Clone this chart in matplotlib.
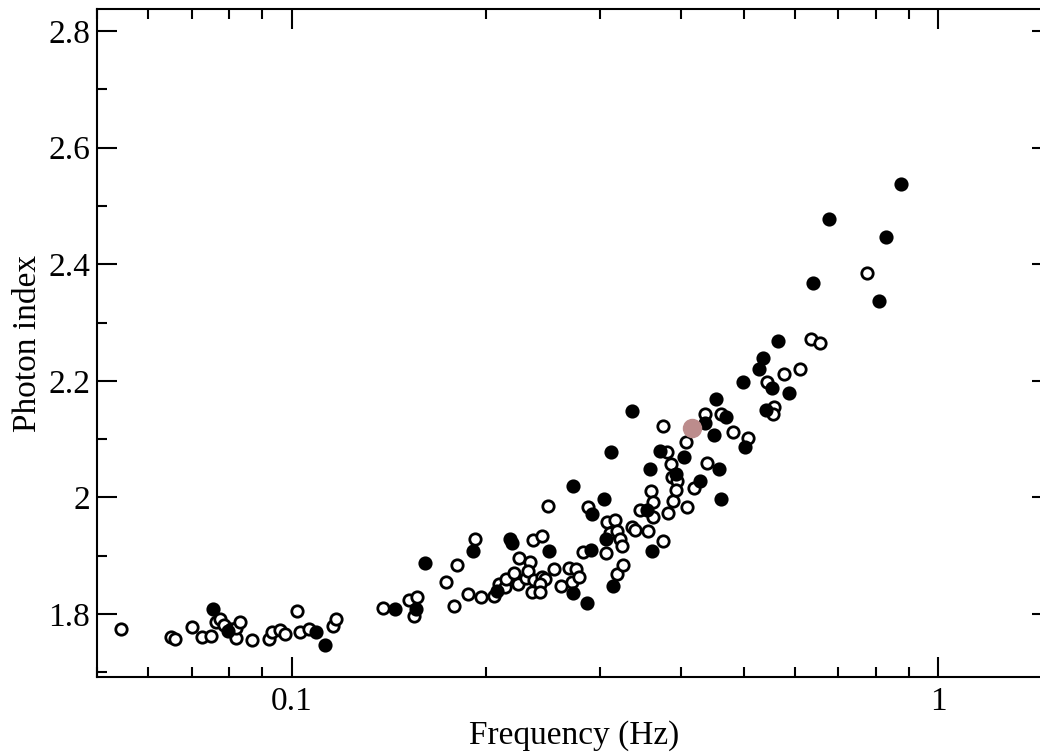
import matplotlib
matplotlib.use("Agg")
import matplotlib.pyplot as plt
from matplotlib.ticker import FixedLocator, MultipleLocator, FuncFormatter, NullFormatter

plt.rcParams["font.family"] = ["Liberation Serif", "DejaVu Serif"]

# open symbols
open_freq = [0.0545, 0.0651, 0.0661, 0.0702, 0.0727, 0.0749, 0.0765, 0.0776, 0.0787, 0.0807,
             0.0819, 0.0819, 0.0831, 0.0867, 0.0924, 0.0931, 0.0958, 0.0975, 0.1018, 0.1029,
             0.1063, 0.1158, 0.117, 0.1385, 0.152, 0.1564, 0.1547, 0.1734, 0.1785, 0.180,
             0.1876, 0.1924, 0.1966, 0.2059, 0.2096, 0.2141, 0.2149, 0.2236, 0.2244, 0.2204,
             0.2301, 0.2333, 0.2317, 0.2367, 0.2436, 0.2462, 0.2418, 0.235, 0.2418, 0.2359,
             0.2436, 0.2489, 0.2543, 0.2607, 0.2683, 0.2712, 0.2751, 0.2781, 0.2821, 0.2872,
             0.3062, 0.3073, 0.3106, 0.3162, 0.3185, 0.3185, 0.3219, 0.3242, 0.3254, 0.336,
             0.3397, 0.3459, 0.3559, 0.3597, 0.3623, 0.3623, 0.3755, 0.3755, 0.3809, 0.3823,
             0.3864, 0.3878, 0.3892, 0.3948, 0.3934, 0.4077, 0.4091, 0.4195, 0.4363, 0.4394,
             0.4619, 0.4821, 0.5087, 0.5426, 0.5564, 0.5544, 0.5766, 0.6105, 0.635, 0.6557,
             0.7759]
open_index = [1.774, 1.761, 1.757, 1.778, 1.761, 1.762, 1.786, 1.791, 1.781, 1.774,
              1.759, 1.776, 1.786, 1.755, 1.757, 1.769, 1.773, 1.766, 1.805, 1.769,
              1.774, 1.779, 1.791, 1.810, 1.824, 1.829, 1.797, 1.855, 1.814, 1.884,
              1.834, 1.929, 1.829, 1.831, 1.851, 1.846, 1.860, 1.851, 1.896, 1.870,
              1.862, 1.889, 1.874, 1.858, 1.863, 1.860, 1.851, 1.838, 1.838, 1.927,
              1.934, 1.985, 1.877, 1.848, 1.879, 1.855, 1.877, 1.863, 1.906, 1.984,
              1.905, 1.958, 1.939, 1.961, 1.942, 1.869, 1.929, 1.917, 1.884, 1.949,
              1.944, 1.978, 1.942, 2.011, 1.992, 1.966, 1.925, 2.122, 2.078, 1.973,
              2.057, 2.035, 1.994, 2.028, 2.013, 2.095, 1.984, 2.016, 2.143, 2.059,
              2.143, 2.112, 2.102, 2.198, 2.155, 2.143, 2.212, 2.220, 2.272, 2.265,
              2.385]

# filled symbols
filled_freq = [0.0757, 0.0796, 0.109, 0.1125, 0.1445, 0.1558, 0.161, 0.191, 0.2081, 0.2173,
               0.2188, 0.2497, 0.2722, 0.2722, 0.2862, 0.2903, 0.2913, 0.3041, 0.3062, 0.3118,
               0.314, 0.336, 0.3546, 0.3584, 0.361, 0.3715, 0.3934, 0.4048, 0.4285, 0.4363,
               0.4505, 0.4537, 0.4586, 0.4619, 0.4702, 0.4996, 0.5032, 0.529, 0.5367, 0.5406,
               0.5524, 0.5644, 0.587, 0.6395, 0.6771, 0.8099, 0.8304, 0.8759]
filled_index = [1.809, 1.771, 1.769, 1.747, 1.809, 1.809, 1.888, 1.908, 1.839, 1.929,
                1.922, 1.908, 2.020, 1.836, 1.819, 1.910, 1.972, 1.997, 1.929, 2.078,
                1.848, 2.148, 1.978, 2.049, 1.908, 2.080, 2.040, 2.069, 2.028, 2.128,
                2.107, 2.169, 2.049, 1.997, 2.138, 2.198, 2.086, 2.220, 2.240, 2.150,
                2.188, 2.268, 2.179, 2.368, 2.478, 2.337, 2.447, 2.538]

# highlighted point
pink_freq = [0.4165]
pink_index = [2.119]

fig = plt.figure(figsize=(10.4, 7.55), dpi=100)
ax = fig.add_axes([0.0933, 0.1033, 0.9183, 0.8848])

ax.plot(open_freq, open_index, "o", ms=8.2, mfc="white", mec="black", mew=2.0, ls="none")
ax.plot(filled_freq, filled_index, "o", ms=8.2, mfc="black", mec="black", mew=2.0, ls="none")
ax.plot(pink_freq, pink_index, "o", ms=13, mfc="#bc8c8c", mec="#bc8c8c", ls="none")

ax.set_xscale("log")
ax.set_xlim(0.05, 1.5)
ax.set_ylim(1.692, 2.838)

ax.xaxis.set_major_locator(FixedLocator([0.1, 1]))
ax.xaxis.set_minor_locator(FixedLocator([0.05, 0.06, 0.07, 0.08, 0.09,
                                         0.2, 0.3, 0.4, 0.5, 0.6, 0.7, 0.8, 0.9]))
ax.xaxis.set_major_formatter(FuncFormatter(lambda v, p: "%g" % v))
ax.xaxis.set_minor_formatter(NullFormatter())
ax.yaxis.set_major_locator(MultipleLocator(0.2))
ax.yaxis.set_minor_locator(MultipleLocator(0.1))
ax.yaxis.set_major_formatter(FuncFormatter(lambda v, p: "%g" % round(v, 2)))

ax.tick_params(which="both", direction="in", top=True, right=True, width=1.5, labelsize=24)
ax.tick_params(which="major", length=14.4)
ax.tick_params(which="minor", length=7.2)
ax.tick_params(axis="x", pad=7)
ax.tick_params(axis="y", pad=5)
for s in ax.spines.values():
    s.set_linewidth(1.5)

ax.set_xlabel("Frequency (Hz)", fontsize=24, labelpad=2)
ax.set_ylabel("Photon index", fontsize=24, labelpad=4)

fig.savefig("out.png", dpi=100)
